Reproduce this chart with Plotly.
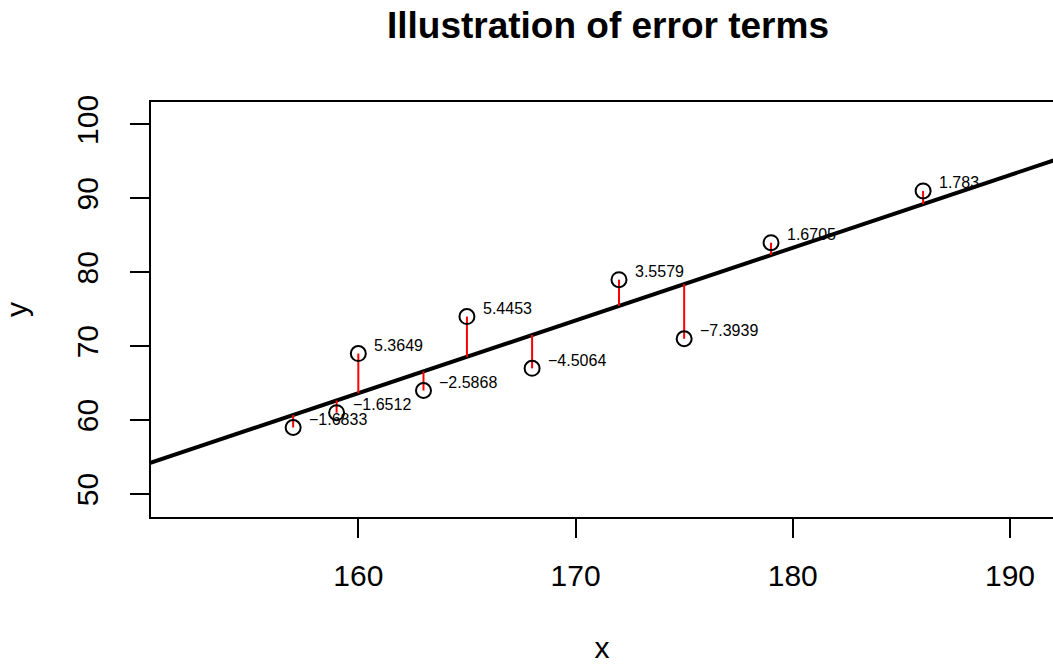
import numpy as np
import plotly.graph_objects as go

# Observations
x_vals = [157, 159, 160, 163, 165, 168, 172, 175, 179, 186]
y_vals = [59, 61, 69, 64, 74, 67, 79, 71, 84, 91]
# Residuals from the least-squares fit, as printed next to each point
residuals = [-1.6833, -1.6512, 5.3649, -2.5868, 5.4453, -4.5064, 3.5579, -7.3939, 1.6705, 1.783]

x_ticks = [160, 170, 180, 190]
y_ticks = [50, 60, 70, 80, 90, 100]

FONT = "Liberation Sans, Arial, Helvetica, sans-serif"

x = np.array(x_vals, dtype=float)
y = np.array(y_vals, dtype=float)
res = np.array(residuals)
fitted = y - res

slope, intercept = np.polyfit(x, y, 1)
x_range = [150.456, 191.98]
y_range = [46.89, 103.03]
line_x = np.array([x_range[0] - 5, x_range[1] + 5])
line_y = intercept + slope * line_x


def fmt(v):
    s = f"{v:.4f}".rstrip("0").rstrip(".")
    return s.replace("-", "\u2212")


fig = go.Figure()

# regression line
fig.add_trace(go.Scatter(x=line_x, y=line_y, mode="lines",
                         line=dict(color="black", width=4),
                         hoverinfo="skip", showlegend=False))

# error segments from each point to the fitted line
seg_x, seg_y = [], []
for xi, yi, fi in zip(x, y, fitted):
    seg_x += [xi, xi, None]
    seg_y += [yi, fi, None]
fig.add_trace(go.Scatter(x=seg_x, y=seg_y, mode="lines",
                         line=dict(color="#ff0000", width=2),
                         hoverinfo="skip", showlegend=False))

# observed points
fig.add_trace(go.Scatter(x=x, y=y, mode="markers",
                         marker=dict(symbol="circle-open", size=15,
                                     color="black", line=dict(width=2, color="black")),
                         showlegend=False))

# residual labels
for xi, yi, r in zip(x, y, res):
    fig.add_annotation(x=xi, y=yi, text=fmt(r), showarrow=False,
                       xanchor="left", yanchor="middle", xshift=14, yshift=8,
                       font=dict(family=FONT, size=16, color="black"))

fig.update_layout(
    width=1053, height=666,
    margin=dict(l=151, r=0, t=102, b=149),
    paper_bgcolor="white", plot_bgcolor="white",
    title=dict(text="<b>Illustration of error terms</b>",
               x=0.5066, xref="paper", xanchor="center",
               y=1 - 25 / 666, yref="container", yanchor="middle",
               font=dict(family=FONT, size=37, color="black")),
    font=dict(family=FONT, color="black"),
    xaxis=dict(range=x_range, tickvals=x_ticks, ticktext=[str(v) for v in x_ticks],
               showgrid=False, zeroline=False,
               showline=True, linecolor="black", linewidth=2, mirror=True,
               ticks="outside", ticklen=19, tickwidth=2, tickcolor="black",
               tickfont=dict(family=FONT, size=30, color="black"),
               ticklabelstandoff=12,
               title=dict(text="x", font=dict(family=FONT, size=30, color="black"), standoff=46)),
    yaxis=dict(range=y_range, tickvals=y_ticks, ticktext=[str(v) for v in y_ticks],
               showgrid=False, zeroline=False,
               showline=True, linecolor="black", linewidth=2, mirror=False,
               ticks="outside", ticklen=19, tickwidth=2, tickcolor="black",
               tickangle=-90,
               tickfont=dict(family=FONT, size=30, color="black"),
               ticklabelstandoff=20,
               title=dict(text="y", font=dict(family=FONT, size=30, color="black"), standoff=40)),
)

fig.write_html("out.html")
